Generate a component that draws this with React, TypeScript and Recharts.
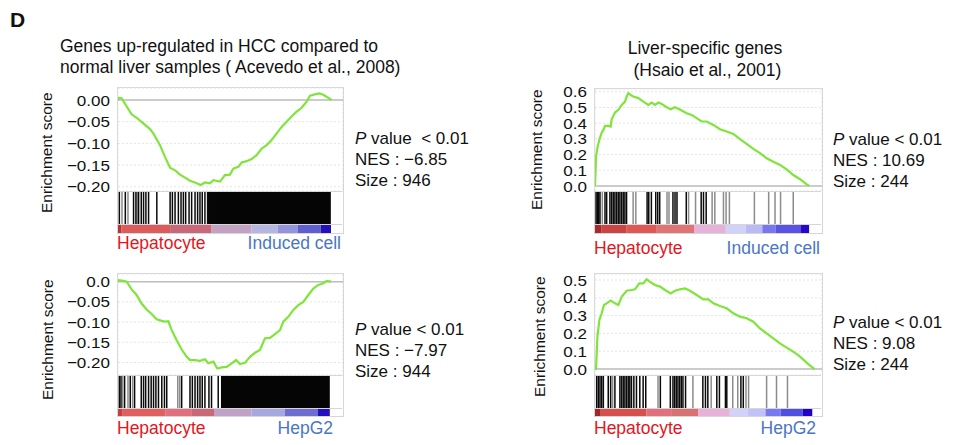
import React from 'react'
import {
  LineChart,
  Line,
  BarChart,
  Bar,
  ScatterChart,
  Scatter,
  XAxis,
  YAxis,
  CartesianGrid,
  ReferenceLine,
  ReferenceArea,
} from 'recharts'

const FONT = '"Liberation Sans", Arial, Helvetica, sans-serif'
const GREEN = '#7fe53a'
const RED = '#e3161d'
const BLUE = '#4a76c6'

// ranked gene list, positions in thousands
const RANK_MAX = 28.5
const gridRanks = [5, 10, 15, 20, 25]

// --- HCC up-regulated genes, hepatocyte vs induced cell
const hccInducedRank = [0, 0.04, 0.46, 1.1, 1.73, 2.36, 3.21, 4.05, 4.47, 5.32, 5.95, 6.59, 7.22, 7.85, 8.49, 9.12, 9.75, 10.47, 11.02, 11.65, 12.08, 12.92, 13.55, 14.18, 14.61, 15.24, 15.66, 16.3, 16.93, 17.56, 18.2, 18.83, 19.46, 20.1, 20.73, 21.36, 21.99, 22.63, 23.26, 23.89, 24.32, 24.95, 25.5, 26.0, 26.64, 27.06]
const hccInducedES = [0, 0.005, 0.004, -0.015, -0.033, -0.041, -0.054, -0.067, -0.077, -0.104, -0.131, -0.156, -0.162, -0.172, -0.179, -0.186, -0.19, -0.196, -0.19, -0.192, -0.185, -0.188, -0.173, -0.172, -0.158, -0.154, -0.144, -0.141, -0.136, -0.127, -0.112, -0.104, -0.092, -0.077, -0.062, -0.05, -0.038, -0.027, -0.018, -0.004, 0.01, 0.013, 0.015, 0.012, 0.005, 0]
const hccInducedHits = [0.17, 0.93, 1.98, 2.28, 2.62, 2.96, 3.25, 3.55, 3.89, 4.94, 6.63, 6.92, 7.26, 7.68, 8.02, 8.32, 8.61, 9.04, 9.37, 9.8, 10.13, 10.43, 10.72, 11.06, 11.4]
const hccInducedGrayHits = [0.51, 1.27, 2.45]
const hccInducedDense = [[11.45, 27.08]]
const hccInducedBarEdges = [0, 0.42, 6.63, 11.9, 17.0, 20.3, 22.9, 25.8, 27.1]
const hccInducedBarColors = ['#b83434', '#dc5b5b', '#c9687a', '#c4a2c4', '#b6b6e2', '#9494de', '#5e5ed2', '#2410b8']

// --- liver-specific genes, hepatocyte vs induced cell
const liverInducedRank = [0, 0.13, 0.29, 0.54, 0.84, 1.05, 1.26, 1.67, 1.97, 2.09, 2.51, 2.93, 3.35, 3.77, 3.98, 4.19, 4.48, 4.81, 5.44, 6.07, 6.7, 7.11, 7.53, 7.95, 8.37, 9.0, 9.5, 10.04, 10.59, 11.51, 12.14, 12.76, 13.39, 14.02, 14.86, 15.69, 16.53, 17.37, 18.2, 19.04, 19.88, 20.71, 21.55, 22.39, 23.23, 24.06, 24.9, 25.74, 26.49, 26.9]
const liverInducedES = [0, 0.187, 0.24, 0.294, 0.34, 0.357, 0.383, 0.383, 0.379, 0.425, 0.468, 0.485, 0.517, 0.538, 0.57, 0.591, 0.58, 0.57, 0.56, 0.538, 0.517, 0.532, 0.517, 0.532, 0.523, 0.502, 0.489, 0.502, 0.489, 0.464, 0.453, 0.432, 0.411, 0.411, 0.389, 0.362, 0.347, 0.332, 0.298, 0.268, 0.236, 0.209, 0.177, 0.155, 0.134, 0.106, 0.07, 0.043, 0.013, 0]
const liverInducedHits = [0.13, 0.29, 0.46, 0.63, 1.26, 1.47, 1.88, 2.09, 2.3, 2.51, 2.72, 2.93, 3.14, 3.35, 3.56, 3.77, 3.98, 6.57, 6.78, 7.11, 7.66, 7.91, 8.16, 9.83, 10.09, 10.34, 11.51, 13.39, 13.68, 14.02]
const liverInducedGrayHits = [0.92, 4.81, 5.15, 9.08, 9.33, 11.8, 12.68, 14.77, 15.11, 16.2, 16.53, 16.95, 20.1, 21.9, 22.7, 23.4, 25.0]
const liverInducedDense: number[][] = []
const liverInducedBarEdges = [0, 0.84, 4.0, 7.7, 12.55, 16.5, 19.0, 21.1, 22.8, 25.9, 27.0]
const liverInducedBarColors = ['#a82a2a', '#c94444', '#df5858', '#e07474', '#e6b2da', '#d2d2f8', '#babaf4', '#7878ec', '#5a52e4', '#2808c8']

// --- HCC up-regulated genes, hepatocyte vs HepG2
const hccHepG2Rank = [0, 0.04, 0.68, 1.1, 1.73, 2.36, 2.99, 3.63, 4.26, 4.9, 5.53, 5.95, 6.38, 6.8, 7.43, 8.07, 8.7, 9.12, 9.75, 10.38, 11.02, 11.44, 12.08, 12.58, 13.13, 13.76, 14.4, 14.95, 15.45, 16.08, 16.72, 17.35, 17.98, 18.62, 19.25, 19.88, 20.52, 20.94, 21.57, 22.21, 22.84, 23.47, 24.11, 24.74, 25.37, 26.01, 26.43, 26.98]
const hccHepG2ES = [0, 0.004, 0.002, 0, -0.019, -0.033, -0.054, -0.069, -0.08, -0.093, -0.097, -0.099, -0.098, -0.12, -0.145, -0.168, -0.186, -0.194, -0.194, -0.196, -0.192, -0.202, -0.198, -0.215, -0.212, -0.211, -0.202, -0.194, -0.204, -0.201, -0.186, -0.176, -0.169, -0.14, -0.139, -0.13, -0.12, -0.099, -0.087, -0.07, -0.058, -0.05, -0.033, -0.017, -0.008, -0.004, 0.002, 0]
const hccHepG2Hits = [0.17, 0.38, 0.84, 1.56, 2.11, 2.96, 3.25, 3.52, 3.89, 4.22, 4.52, 4.82, 5.15, 5.57, 5.91, 6.2, 8.1, 9.16, 9.46, 9.8, 10.13, 10.43, 10.72, 11.06, 11.57, 11.9, 12.75]
const hccHepG2GrayHits = [0.59, 1.27, 1.86, 7.6, 7.85]
const hccHepG2Dense = [[13.1, 26.95]]
const hccHepG2BarEdges = [0, 0.6, 6.0, 9.4, 12.3, 17.0, 21.2, 25.4, 26.95]
const hccHepG2BarColors = ['#c84040', '#e06060', '#e0707e', '#c86878', '#c0a2c8', '#a8a8e0', '#6e6ed2', '#2010c0']

// --- liver-specific genes, hepatocyte vs HepG2
const liverHepG2Rank = [0, 0.13, 0.3, 0.55, 0.84, 1.13, 1.46, 1.97, 2.51, 2.93, 3.35, 3.97, 4.6, 5.02, 5.56, 6.07, 6.49, 6.91, 7.53, 8.16, 8.79, 9.5, 10.04, 10.67, 11.3, 11.92, 12.76, 13.6, 14.23, 14.86, 15.69, 16.53, 17.37, 18.2, 19.04, 19.88, 20.71, 21.55, 22.39, 23.22, 24.06, 24.9, 25.74, 26.57, 27.41, 27.6]
const liverHepG2ES = [0, 0.0, 0.18, 0.275, 0.313, 0.36, 0.369, 0.384, 0.369, 0.36, 0.406, 0.44, 0.444, 0.448, 0.481, 0.481, 0.504, 0.49, 0.472, 0.463, 0.444, 0.425, 0.44, 0.448, 0.453, 0.44, 0.416, 0.391, 0.391, 0.369, 0.354, 0.341, 0.313, 0.294, 0.285, 0.266, 0.228, 0.2, 0.172, 0.144, 0.12, 0.097, 0.069, 0.036, 0.004, 0]
const liverHepG2Hits = [0.21, 0.42, 0.63, 0.84, 1.05, 1.67, 1.97, 2.51, 3.14, 3.35, 3.56, 3.77, 3.98, 4.19, 4.39, 4.6, 4.9, 5.23, 5.65, 6.07, 6.4, 8.24, 9.5, 9.83, 10.04, 10.25, 10.46, 10.67, 10.88, 11.09, 11.42, 13.6, 13.93, 14.23, 15.36, 15.69, 16.45, 16.62, 18.4, 18.7]
const liverHepG2GrayHits = [2.22, 7.95, 12.35, 14.65, 17.37, 18.0, 19.04, 19.37, 21.64, 22.89, 24.27]
const liverHepG2Dense: number[][] = []
const liverHepG2BarEdges = [0, 0.63, 6.5, 9.6, 13.0, 17.0, 19.3, 21.5, 23.4, 26.2, 27.4]
const liverHepG2BarColors = ['#a02828', '#d65050', '#e0707e', '#d87272', '#e8b2d8', '#d2d2f8', '#c2c2f8', '#7878f0', '#5050e0', '#2000c8']

const negTicks = [0, -0.05, -0.1, -0.15, -0.2]
const posTicks6 = [0, 0.1, 0.2, 0.3, 0.4, 0.5, 0.6]
const posTicks5 = [0, 0.1, 0.2, 0.3, 0.4, 0.5]

const fmtNeg = (zero: string) => (v: number) => (v === 0 ? zero : '\u2212' + Math.abs(v).toFixed(2))
const fmtPos = (v: number) => v.toFixed(1)

const ZERO_M = { top: 0, right: 0, bottom: 0, left: 0 }
const AXIS_W = 80
const PAD = 12

// the source figure is slightly stretched sideways, so ticks are drawn wide
const wideTick = (fmt: (v: number) => string) => (props: any) => (
  <g transform={`translate(${props.x},${props.y})`}>
    <text
      x={0}
      y={0}
      dy="0.36em"
      textAnchor="end"
      fontSize={15.5}
      fontFamily={FONT}
      fill="#111"
      transform="scale(1.1,1)"
    >
      {fmt(props.payload.value)}
    </text>
  </g>
)

const hitShape = (color: string, h: number) => (props: any) => (
  <line x1={props.cx} x2={props.cx} y1={props.cy - h / 2} y2={props.cy + h / 2} stroke={color} strokeWidth={1.5} />
)

function Panel({ p }: { p: any }) {
  const curve = p.rank.map((r: number, i: number) => ({ rank: r, es: p.es[i] }))
  const hitsBlack = p.hits.map((r: number) => ({ rank: r, y: 0.5 }))
  const hitsGray = p.grayHits.map((r: number) => ({ rank: r, y: 0.5 }))
  const barRow: Record<string, any> = { name: 'rank' }
  p.barColors.forEach((_: string, i: number) => {
    barRow['s' + i] = p.barEdges[i + 1] - p.barEdges[i]
  })
  const hitsTop = p.y + p.plotH
  const barTop = hitsTop + p.hitsH
  const hitsInner = p.hitsH - 1
  return (
    <>
      <div
        style={{
          position: 'absolute',
          left: p.x - 1,
          top: p.y - 1,
          width: p.w,
          height: p.plotH + p.hitsH + p.barH,
          border: '1px solid #d6d6d6',
        }}
      />
      <div style={{ position: 'absolute', left: p.x - AXIS_W, top: p.y - PAD }}>
        <LineChart
          width={p.w + AXIS_W}
          height={p.plotH + 2 * PAD}
          data={curve}
          margin={{ top: PAD, right: 0, bottom: PAD, left: 0 }}
        >
          <CartesianGrid stroke="#e4e4e4" strokeDasharray="2 2" />
          <XAxis
            type="number"
            dataKey="rank"
            domain={[0, RANK_MAX]}
            ticks={gridRanks}
            tick={false}
            axisLine={false}
            tickLine={false}
            height={0}
            allowDataOverflow
          />
          <YAxis
            type="number"
            domain={p.yDomain}
            ticks={p.yTicks}
            interval={0}
            width={AXIS_W}
            allowDataOverflow
            axisLine={false}
            tickLine={false}
            tickSize={4}
            tickMargin={4}
            tick={wideTick(p.fmt)}
          />
          <ReferenceLine y={0} stroke="#bdbdbd" strokeWidth={1.5} />
          <Line
            type="linear"
            dataKey="es"
            stroke={GREEN}
            strokeWidth={2.2}
            dot={false}
            isAnimationActive={false}
          />
        </LineChart>
      </div>
      <div
        style={{
          position: 'absolute',
          left: p.x,
          top: hitsTop,
          width: p.w - 1,
          height: p.hitsH,
          borderTop: '1px solid #d6d6d6',
          boxSizing: 'border-box',
        }}
      >
        <ScatterChart width={p.w - 1} height={hitsInner} margin={ZERO_M}>
          <XAxis type="number" dataKey="rank" domain={[0, RANK_MAX]} hide />
          <YAxis type="number" dataKey="y" domain={[0, 1]} hide />
          {p.dense.map((d: number[], i: number) => (
            <ReferenceArea key={'d' + i} x1={d[0]} x2={d[1]} fill="#050505" fillOpacity={1} stroke="none" />
          ))}
          <Scatter data={hitsGray} shape={hitShape('#8c8c8c', hitsInner)} isAnimationActive={false} />
          <Scatter data={hitsBlack} shape={hitShape('#0a0a0a', hitsInner)} isAnimationActive={false} />
        </ScatterChart>
      </div>
      <div
        style={{
          position: 'absolute',
          left: p.x,
          top: barTop,
          width: p.w - 1,
          height: p.barH,
          borderTop: '1px solid #d6d6d6',
          boxSizing: 'border-box',
        }}
      >
        <BarChart
          layout="vertical"
          width={p.w - 1}
          height={p.barH - 1}
          data={[barRow]}
          margin={ZERO_M}
          barCategoryGap={0}
        >
          <XAxis type="number" domain={[0, RANK_MAX]} hide />
          <YAxis type="category" dataKey="name" hide />
          {p.barColors.map((c: string, i: number) => (
            <Bar key={i} dataKey={'s' + i} stackId="bar" fill={c} isAnimationActive={false} />
          ))}
        </BarChart>
      </div>
      <div
        style={{
          position: 'absolute',
          left: p.yLabel[0] - 10,
          top: p.yLabel[1] - 62,
          height: 124,
          writingMode: 'vertical-rl',
          transform: 'rotate(180deg)',
          textAlign: 'center',
          whiteSpace: 'nowrap',
          fontSize: 15.5,
          lineHeight: '20px',
        }}
      >
        Enrichment score
      </div>
      <div style={{ position: 'absolute', left: p.x - 1, top: p.lowLabelY - 11, fontSize: 17.5, color: RED, lineHeight: '22px' }}>
        Hepatocyte
      </div>
      <div
        style={{
          position: 'absolute',
          left: p.highLabelRight - 200,
          width: 200,
          textAlign: 'right',
          top: p.lowLabelY - 11,
          fontSize: 17.5,
          color: BLUE,
          lineHeight: '22px',
        }}
      >
        {p.highLabel}
      </div>
      <div
        style={{
          position: 'absolute',
          left: p.statsX,
          top: p.statsY - 10.5,
          fontSize: 17,
          lineHeight: '21px',
          whiteSpace: 'pre',
        }}
      >
        <div>
          <i>P</i>
          {p.pText}
        </div>
        <div>{p.nes}</div>
        <div>{p.size}</div>
      </div>
    </>
  )
}

const panels = [
  {
    x: 118, y: 88, w: 225, plotH: 103, hitsH: 33, barH: 9,
    yDomain: [-0.2097, 0.0276], yTicks: negTicks, fmt: fmtNeg('0.00'),
    rank: hccInducedRank, es: hccInducedES, hits: hccInducedHits, grayHits: hccInducedGrayHits,
    dense: hccInducedDense, barEdges: hccInducedBarEdges, barColors: hccInducedBarColors,
    yLabel: [47, 153], lowLabelY: 243, highLabelRight: 341, highLabel: 'Induced cell',
    statsX: 355, statsY: 138, pText: ' value  < 0.01', nes: 'NES : \u22126.85', size: 'Size : 946',
  },
  {
    x: 595, y: 89, w: 227, plotH: 102, hitsH: 33, barH: 9,
    yDomain: [-0.032, 0.618], yTicks: posTicks6, fmt: fmtPos,
    rank: liverInducedRank, es: liverInducedES, hits: liverInducedHits, grayHits: liverInducedGrayHits,
    dense: liverInducedDense, barEdges: liverInducedBarEdges, barColors: liverInducedBarColors,
    yLabel: [537, 150], lowLabelY: 248, highLabelRight: 820, highLabel: 'Induced cell',
    statsX: 833, statsY: 139, pText: ' value < 0.01', nes: 'NES : 10.69', size: 'Size : 244',
  },
  {
    x: 118, y: 274, w: 225, plotH: 101, hitsH: 33, barH: 8,
    yDomain: [-0.231, 0.019], yTicks: negTicks, fmt: fmtNeg('0.0'),
    rank: hccHepG2Rank, es: hccHepG2ES, hits: hccHepG2Hits, grayHits: hccHepG2GrayHits,
    dense: hccHepG2Dense, barEdges: hccHepG2BarEdges, barColors: hccHepG2BarColors,
    yLabel: [48, 340], lowLabelY: 428, highLabelRight: 333, highLabel: 'HepG2',
    statsX: 355, statsY: 329, pText: ' value < 0.01', nes: 'NES : \u22127.97', size: 'Size : 944',
  },
  {
    x: 595, y: 274, w: 227, plotH: 101, hitsH: 33, barH: 8,
    yDomain: [-0.034, 0.534], yTicks: posTicks5, fmt: fmtPos,
    rank: liverHepG2Rank, es: liverHepG2ES, hits: liverHepG2Hits, grayHits: liverHepG2GrayHits,
    dense: liverHepG2Dense, barEdges: liverHepG2BarEdges, barColors: liverHepG2BarColors,
    yLabel: [540, 337], lowLabelY: 428, highLabelRight: 816, highLabel: 'HepG2',
    statsX: 833, statsY: 322, pText: ' value < 0.01', nes: 'NES : 9.08', size: 'Size : 244',
  },
]

export default function App() {
  return (
    <div
      style={{
        position: 'absolute',
        left: 0,
        top: 0,
        width: 959,
        height: 445,
        background: '#fff',
        fontFamily: FONT,
        color: '#111',
        overflow: 'hidden',
      }}
    >
      <div style={{ position: 'absolute', left: 10, top: 8, fontSize: 21, fontWeight: 'bold', lineHeight: '24px' }}>D</div>
      <div style={{ position: 'absolute', left: 60, top: 36, fontSize: 17.5, lineHeight: '21px', whiteSpace: 'pre' }}>
        <div>Genes up-regulated in HCC compared to</div>
        <div>normal liver samples ( Acevedo et al., 2008)</div>
      </div>
      <div
        style={{
          position: 'absolute',
          left: 605,
          width: 200,
          top: 37,
          fontSize: 17.5,
          lineHeight: '22px',
          textAlign: 'center',
          whiteSpace: 'pre',
        }}
      >
        <div>Liver-specific genes</div>
        <div> (Hsaio et al., 2001)</div>
      </div>
      {panels.map((p, i) => (
        <Panel key={i} p={p} />
      ))}
    </div>
  )
}
